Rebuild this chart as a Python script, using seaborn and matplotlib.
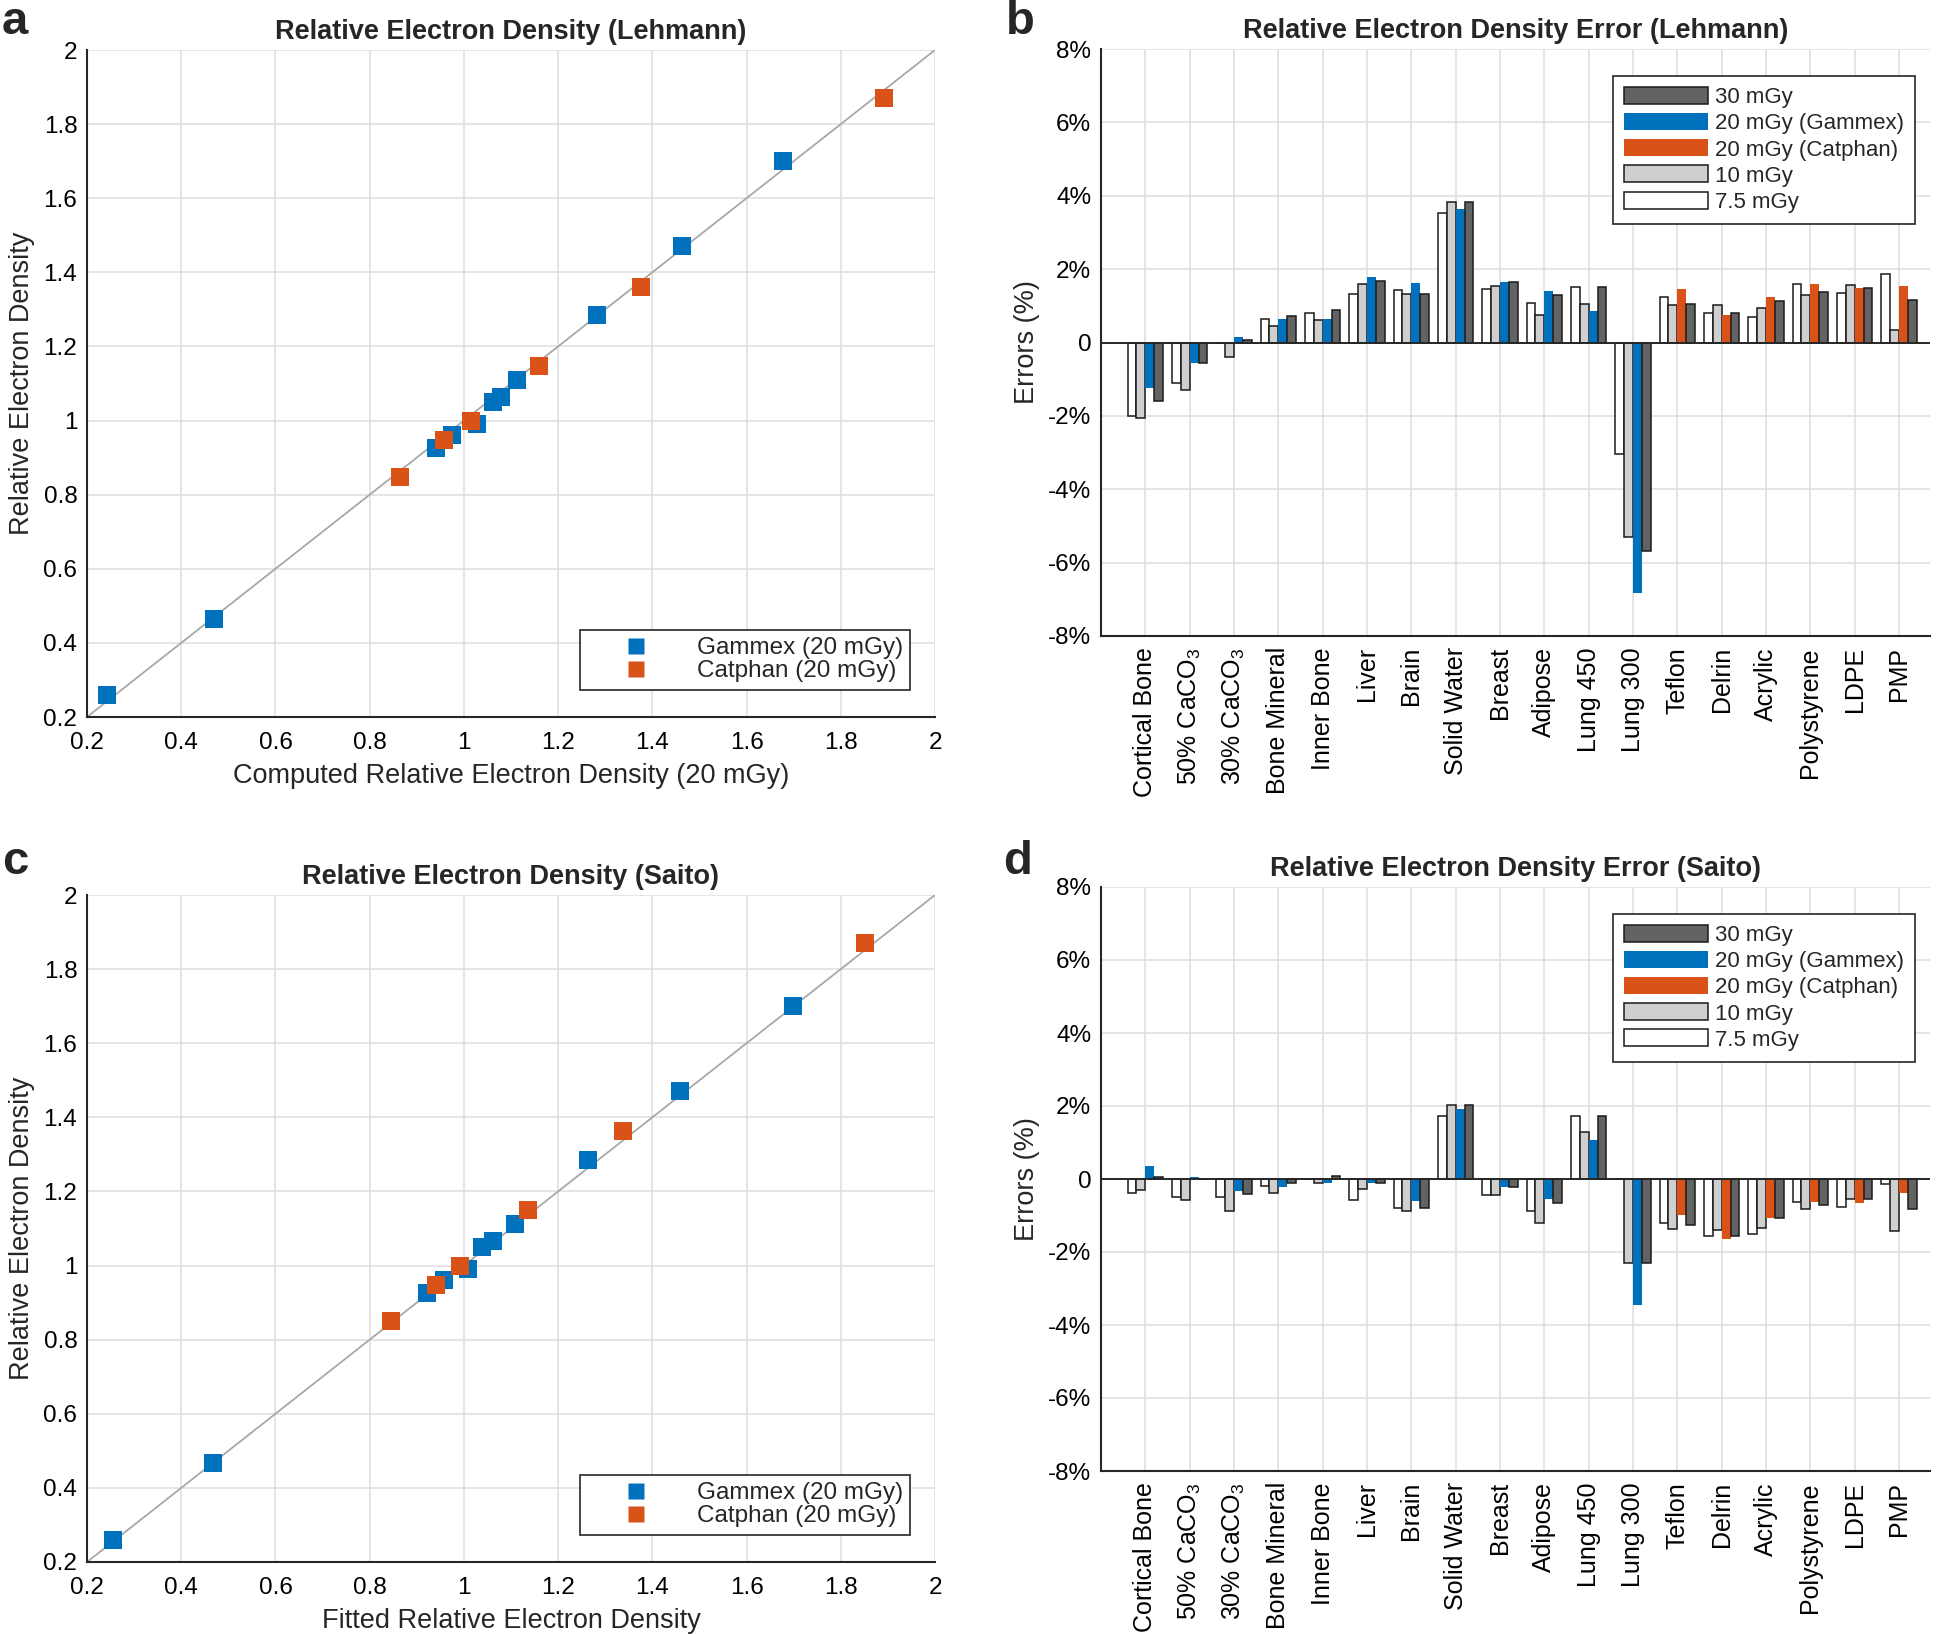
import numpy as np
import pandas as pd
import matplotlib
matplotlib.use("Agg")
import matplotlib.pyplot as plt
import seaborn as sns
from matplotlib.patches import Patch
from matplotlib.lines import Line2D

# ---------------- data ----------------
materials = ["Cortical Bone", "50% CaCO$_3$", "30% CaCO$_3$", "Bone Mineral", "Inner Bone",
             "Liver", "Brain", "Solid Water", "Breast", "Adipose", "Lung 450", "Lung 300",
             "Teflon", "Delrin", "Acrylic", "Polystyrene", "LDPE", "PMP"]
phantom = ["Gammex"] * 12 + ["Catphan"] * 6
doses = ["7.5 mGy", "10 mGy", "20 mGy", "30 mGy"]

# Lehmann errors (%)
leh_7_5 = [-2.01, -1.10, 0.00, 0.63, 0.81, 1.32, 1.42, 3.54, 1.45, 1.07, 1.51, -3.04,
           1.24, 0.81, 0.70, 1.60, 1.36, 1.86]
leh_10 = [-2.06, -1.30, -0.40, 0.45, 0.61, 1.59, 1.33, 3.83, 1.55, 0.75, 1.06, -5.30,
          1.01, 1.02, 0.95, 1.30, 1.58, 0.34]
leh_20 = [-1.25, -0.55, 0.16, 0.63, 0.63, 1.79, 1.63, 3.64, 1.66, 1.40, 0.86, -6.83,
          1.45, 0.74, 1.23, 1.60, 1.49, 1.53]
leh_30 = [-1.59, -0.55, 0.07, 0.72, 0.89, 1.68, 1.33, 3.83, 1.65, 1.29, 1.50, -5.68,
          1.06, 0.80, 1.13, 1.39, 1.48, 1.16]

# Saito errors (%)
sai_7_5 = [-0.37, -0.50, -0.48, -0.20, 0.00, -0.58, -0.79, 1.72, -0.44, -0.89, 1.72, 0.00,
           -1.20, -1.56, -1.51, -0.62, -0.76, -0.14]
sai_10 = [-0.30, -0.58, -0.89, -0.37, -0.12, -0.28, -0.89, 2.03, -0.44, -1.21, 1.29, -2.29,
          -1.36, -1.40, -1.33, -0.82, -0.54, -1.42]
sai_20 = [0.36, 0.06, -0.33, -0.21, -0.12, -0.12, -0.60, 1.92, -0.23, -0.55, 1.08, -3.45,
          -0.99, -1.64, -1.07, -0.63, -0.67, -0.38]
sai_30 = [0.05, 0.00, -0.41, -0.10, 0.08, -0.12, -0.79, 2.03, -0.23, -0.67, 1.72, -2.29,
          -1.25, -1.56, -1.07, -0.72, -0.54, -0.83]

# Scatter: Lehmann (computed vs reference RED)
a_gammex_x = [0.242, 0.469, 0.940, 0.974, 1.027, 1.061, 1.079, 1.113, 1.282, 1.462, 1.677]
a_gammex_y = [0.259, 0.465, 0.925, 0.961, 0.991, 1.050, 1.064, 1.109, 1.285, 1.472, 1.700]
a_catphan_x = [0.864, 0.957, 1.015, 1.160, 1.375, 1.891]
a_catphan_y = [0.849, 0.947, 0.998, 1.146, 1.361, 1.870]
# Scatter: Saito (fitted vs reference RED)
c_gammex_x = [0.255, 0.468, 0.922, 0.957, 1.009, 1.038, 1.061, 1.108, 1.264, 1.459, 1.698]
c_gammex_y = [0.260, 0.466, 0.925, 0.961, 0.992, 1.051, 1.067, 1.112, 1.285, 1.472, 1.701]
c_catphan_x = [0.846, 0.940, 0.991, 1.137, 1.337, 1.851]
c_catphan_y = [0.851, 0.948, 0.999, 1.149, 1.363, 1.871]

# ---------------- style ----------------
sns.set_style("white")
plt.rcParams["font.family"] = ["Liberation Sans", "DejaVu Sans"]
plt.rcParams["mathtext.fontset"] = "custom"
plt.rcParams["mathtext.rm"] = "Liberation Sans"
plt.rcParams["mathtext.it"] = "Liberation Sans:italic"
plt.rcParams["mathtext.bf"] = "Liberation Sans:bold"

BLUE = "#0072BD"
ORANGE = "#D95319"
DARK = "#636363"
LIGHT = "#CFCFCF"
WHITE = "#FFFFFF"
AXC = "#262626"
GRIDC = "#DEDEDE"
TICK_FS = 17.5
LAB_FS = 19.5
TITLE_FS = 19.5
LEG_FS = 16.0

W, H = 1946, 1634
fig = plt.figure(figsize=(W / 100, H / 100), dpi=100)


def px_axes(left, right, top, bottom):
    return fig.add_axes([left / W, 1 - bottom / H, (right - left) / W, (bottom - top) / H])


def style_axes(ax):
    for s in ["top", "right"]:
        ax.spines[s].set_visible(False)
    for s in ["left", "bottom"]:
        ax.spines[s].set_color(AXC)
        ax.spines[s].set_linewidth(1.5)
    ax.tick_params(direction="in", length=7, width=1.3, colors=AXC,
                   labelcolor="black", labelsize=TICK_FS, pad=7)
    ax.grid(True, color=GRIDC, linewidth=1.1)
    ax.set_axisbelow(True)


def fmt_num(v):
    s = f"{v:.1f}"
    return s[:-2] if s.endswith(".0") else s


def scatter_panel(ax, gx, gy, cx, cy, title, xlabel):
    ax.plot([0.2, 2.0], [0.2, 2.0], color="#A8A8A8", lw=1.3, zorder=2)
    sns.scatterplot(x=gx, y=gy, ax=ax, marker="s", s=150, color=BLUE, linewidth=0, zorder=3)
    sns.scatterplot(x=cx, y=cy, ax=ax, marker="s", s=150, color=ORANGE, linewidth=0, zorder=4)
    ax.set_xlim(0.2, 2.0)
    ax.set_ylim(0.2, 2.0)
    ticks = np.round(np.arange(0.2, 2.01, 0.2), 1)
    ax.set_xticks(ticks)
    ax.set_yticks(ticks)
    ax.set_xticklabels([fmt_num(t) for t in ticks])
    ax.set_yticklabels([fmt_num(t) for t in ticks])
    style_axes(ax)
    ax.tick_params(axis="x", pad=11)
    ax.set_title(title, fontsize=TITLE_FS, fontweight="bold", pad=8)
    ax.set_xlabel(xlabel, fontsize=LAB_FS, labelpad=6)
    ax.set_ylabel("Relative Electron Density", fontsize=LAB_FS, labelpad=6)
    handles = [Line2D([], [], ls="none", marker="s", ms=11, color=BLUE, mec="none"),
               Line2D([], [], ls="none", marker="s", ms=11, color=ORANGE, mec="none")]
    leg = ax.legend(handles, ["Gammex (20 mGy)", "Catphan (20 mGy)"],
                    loc="lower right", bbox_to_anchor=(0.971, 0.041), borderaxespad=0,
                    fontsize=TICK_FS, frameon=True, fancybox=False, framealpha=1,
                    handlelength=4.0, handletextpad=0.5, labelspacing=0.05,
                    borderpad=0.3, edgecolor=AXC)
    leg.get_frame().set_linewidth(1.2)


def bar_panel(ax, v75, v10, v20, v30, title):
    df = pd.DataFrame({
        "material": materials * 4,
        "dose": sum([[d] * len(materials) for d in doses], []),
        "error": list(v75) + list(v10) + list(v20) + list(v30),
    })
    sns.barplot(data=df, x="material", y="error", hue="dose", hue_order=doses,
                order=materials, palette=[WHITE, LIGHT, BLUE, DARK], saturation=1,
                errorbar=None, width=0.8, ax=ax, legend=False, zorder=2)
    # colour: 20 mGy bars follow the phantom
    for ci, cont in enumerate(ax.containers):
        for bi, bar in enumerate(cont):
            if ci == 2:
                bar.set_facecolor(BLUE if phantom[bi] == "Gammex" else ORANGE)
                bar.set_edgecolor("none")
            else:
                bar.set_edgecolor("#1A1A1A")
                bar.set_linewidth(1.1)
    ax.axhline(0, color=AXC, lw=1.4, zorder=3)
    ax.set_xlim(-1, 17.7)
    ax.set_ylim(-8, 8)
    yt = np.arange(-8, 9, 2)
    ax.set_yticks(yt)
    ax.set_yticklabels([("0" if v == 0 else f"{v}%") for v in yt])
    ax.set_xticks(range(len(materials)))
    ax.set_xticklabels(materials, rotation=90)
    style_axes(ax)
    ax.tick_params(axis="x", labelsize=TICK_FS + 0.5, pad=8)
    ax.set_xlabel("")
    ax.set_ylabel("Errors (%)", fontsize=LAB_FS, labelpad=6)
    ax.set_title(title, fontsize=TITLE_FS, fontweight="bold", pad=8)
    handles = [Patch(facecolor=DARK, edgecolor="#1A1A1A", lw=1.1),
               Patch(facecolor=BLUE, edgecolor="none"),
               Patch(facecolor=ORANGE, edgecolor="none"),
               Patch(facecolor=LIGHT, edgecolor="#1A1A1A", lw=1.1),
               Patch(facecolor=WHITE, edgecolor="#1A1A1A", lw=1.1)]
    labels = ["30 mGy", "20 mGy (Gammex)", "20 mGy (Catphan)", "10 mGy", "7.5 mGy"]
    leg = ax.legend(handles, labels, loc="upper right", bbox_to_anchor=(0.982, 0.954),
                    borderaxespad=0, fontsize=LEG_FS, frameon=True, fancybox=False,
                    framealpha=1, handlelength=3.8, handleheight=0.8, handletextpad=0.3,
                    labelspacing=0.22, borderpad=0.5, edgecolor=AXC)
    leg.get_frame().set_linewidth(1.2)


ax_a = px_axes(87, 935, 50, 717)
ax_b = px_axes(1101, 1930, 49, 636)
ax_c = px_axes(87, 935, 895, 1562)
ax_d = px_axes(1101, 1930, 887, 1471)

scatter_panel(ax_a, a_gammex_x, a_gammex_y, a_catphan_x, a_catphan_y,
              "Relative Electron Density (Lehmann)",
              "Computed Relative Electron Density (20 mGy)")
scatter_panel(ax_c, c_gammex_x, c_gammex_y, c_catphan_x, c_catphan_y,
              "Relative Electron Density (Saito)",
              "Fitted Relative Electron Density")
bar_panel(ax_b, leh_7_5, leh_10, leh_20, leh_30, "Relative Electron Density Error (Lehmann)")
bar_panel(ax_d, sai_7_5, sai_10, sai_20, sai_30, "Relative Electron Density Error (Saito)")

for lab, x, y in [("a", 15, 22), ("b", 1020, 22), ("c", 15, 862), ("d", 1018, 862)]:
    fig.text(x / W, 1 - y / H, lab, fontsize=34, fontweight="bold", ha="center", va="center")

fig.savefig("out.png", dpi=100, facecolor="white")
